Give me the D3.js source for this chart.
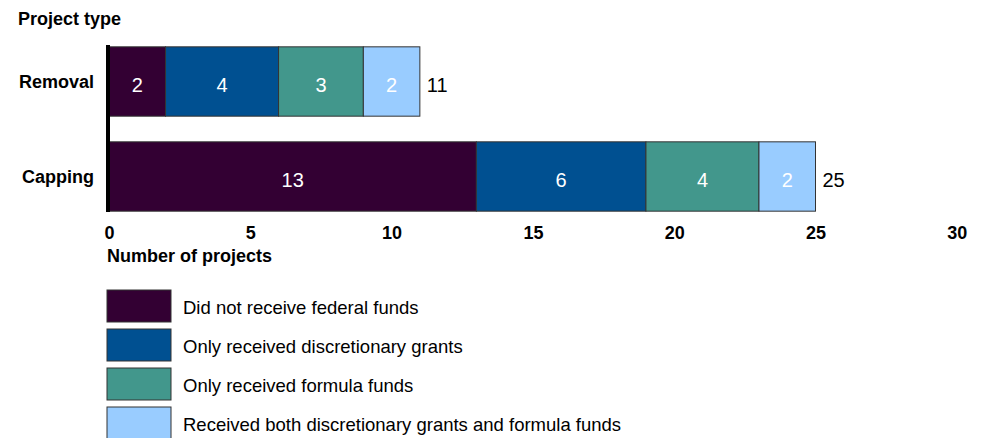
<!DOCTYPE html>
<html lang="en">
  <head>
    <script src="https://cdn.jsdelivr.net/npm/d3@7"></script>
    <style>
      body { margin: 0; background: #fff; }
      text { font-family: 'Liberation Sans', Arial, sans-serif; }
    </style>
  </head>
  <body>
    <script>
      const categories = ['Removal', 'Capping']
      const seriesNames = [
        'Did not receive federal funds',
        'Only received discretionary grants',
        'Only received formula funds',
        'Received both discretionary grants and formula funds'
      ]
      const noFederal = [2, 13]
      const discretionary = [4, 6]
      const formula = [3, 4]
      const both = [2, 2]
      const tickValues = [0, 5, 10, 15, 20, 25, 30]
      const colors = ['#330033', '#005091', '#42978c', '#99ccff']

      const w = 982
      const h = 438
      const svg = d3.select('body').append('svg')
        .attr('width', w)
        .attr('height', h)

      const rows = categories.map(function(c, i) {
        return {cat: c, s0: noFederal[i], s1: discretionary[i], s2: formula[i], s3: both[i]}
      })
      const keys = ['s0', 's1', 's2', 's3']
      const stacked = d3.stack().keys(keys)(rows)

      const x = d3.scaleLinear().domain([0, 30]).range([109, 956.8])
      const y = d3.scaleBand().domain(categories).range([34, 224]).paddingInner(0.27).paddingOuter(0.135)

      // bars
      const layers = svg.selectAll('g.layer')
        .data(stacked)
        .enter()
        .append('g')
        .attr('fill', function(d, i) { return colors[i] })

      layers.selectAll('rect')
        .data(function(d) { return d })
        .enter()
        .append('rect')
        .attr('x', function(d) { return x(d[0]) })
        .attr('y', function(d) { return y(d.data.cat) })
        .attr('width', function(d) { return x(d[1]) - x(d[0]) })
        .attr('height', y.bandwidth())
        .attr('stroke', '#333')
        .attr('stroke-width', 1)

      layers.selectAll('text')
        .data(function(d) { return d })
        .enter()
        .append('text')
        .attr('x', function(d) { return (x(d[0]) + x(d[1])) / 2 })
        .attr('y', function(d) { return y(d.data.cat) + y.bandwidth() / 2 })
        .attr('dy', '0.52em')
        .attr('text-anchor', 'middle')
        .attr('fill', '#fff')
        .style('font-size', '20px')
        .text(function(d) { return d[1] - d[0] })

      // totals
      svg.selectAll('text.total')
        .data(rows)
        .enter()
        .append('text')
        .attr('class', 'total')
        .attr('x', function(d) { return x(d.s0 + d.s1 + d.s2 + d.s3) + 7 })
        .attr('y', function(d) { return y(d.cat) + y.bandwidth() / 2 })
        .attr('dy', '0.52em')
        .style('font-size', '20px')
        .text(function(d) { return d.s0 + d.s1 + d.s2 + d.s3 })

      // category labels
      svg.selectAll('text.cat')
        .data(categories)
        .enter()
        .append('text')
        .attr('class', 'cat')
        .attr('x', 94)
        .attr('y', function(d) { return y(d) + y.bandwidth() / 2 })
        .attr('dy', '0.34em')
        .attr('text-anchor', 'end')
        .style('font-size', '18px')
        .style('font-weight', 'bold')
        .text(function(d) { return d })

      // y axis line
      svg.append('line')
        .attr('x1', 108).attr('x2', 108)
        .attr('y1', 45).attr('y2', 212)
        .attr('stroke', '#000')
        .attr('stroke-width', 4)

      // x axis (labels only)
      const xAxis = svg.append('g')
        .attr('transform', 'translate(0,239)')
        .call(d3.axisBottom(x).tickValues(tickValues).tickSize(0).tickPadding(0))
      xAxis.select('.domain').remove()
      xAxis.selectAll('text')
        .attr('dy', 0)
        .attr('fill', '#000')
        .style('font-size', '18px')
        .style('font-weight', 'bold')
        .style('font-family', "'Liberation Sans', Arial, sans-serif")

      svg.append('text')
        .attr('x', 107)
        .attr('y', 262)
        .style('font-size', '18px')
        .style('font-weight', 'bold')
        .text('Number of projects')

      svg.append('text')
        .attr('x', 18)
        .attr('y', 25)
        .style('font-size', '18px')
        .style('font-weight', 'bold')
        .text('Project type')

      // legend
      const legend = svg.selectAll('g.legend')
        .data(seriesNames)
        .enter()
        .append('g')
        .attr('transform', function(d, i) { return 'translate(107,' + (290 + i * 39) + ')' })

      legend.append('rect')
        .attr('width', 64)
        .attr('height', 32)
        .attr('fill', function(d, i) { return colors[i] })
        .attr('stroke', '#333')
        .attr('stroke-width', 1)

      legend.append('text')
        .attr('x', 76)
        .attr('y', 24)
        .style('font-size', '18.5px')
        .text(function(d) { return d })
    </script>
  </body>
</html>
